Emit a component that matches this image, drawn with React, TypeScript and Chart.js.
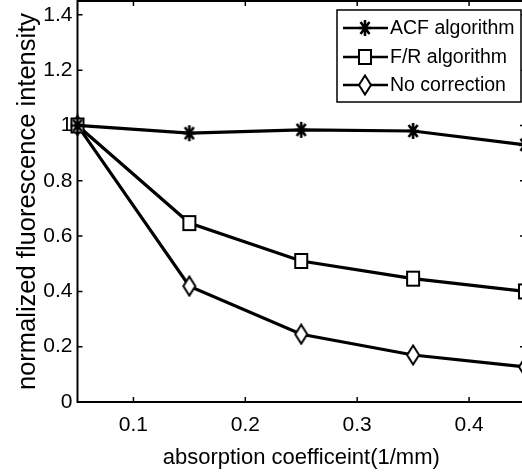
import React, { useEffect, useRef } from "react";
import { Chart, registerables } from "chart.js";

Chart.register(...registerables);

const xValues = [0.05, 0.15, 0.25, 0.35, 0.45];
const acfValues = [1.0, 0.972, 0.984, 0.98, 0.93];
const frValues = [1.0, 0.647, 0.51, 0.446, 0.4];
const noCorrValues = [1.0, 0.419, 0.245, 0.17, 0.127];
const xTicks = [0.1, 0.2, 0.3, 0.4];
const yTicks = [0, 0.2, 0.4, 0.6, 0.8, 1.0, 1.2, 1.4];
const seriesLabels = ["ACF algorithm", "F/R algorithm", "No correction"];
const xTitle = "absorption coefficeint(1/mm)";
const yTitle = "normalized fluorescence intensity";

const FONT = "'Liberation Sans', Arial, Helvetica, sans-serif";

function makeMarker(kind: string): HTMLCanvasElement {
  const c = document.createElement("canvas");
  const w = 18;
  const h = 22;
  c.width = w;
  c.height = h;
  const ctx = c.getContext("2d")!;
  const cx = w / 2;
  const cy = h / 2;
  ctx.strokeStyle = "#000";
  ctx.lineWidth = 2;
  if (kind === "star") {
    const rx = 6;
    const ry = 8;
    ctx.lineWidth = 2.6;
    ctx.beginPath();
    ctx.moveTo(cx, cy - ry);
    ctx.lineTo(cx, cy + ry);
    ctx.moveTo(cx - rx, cy);
    ctx.lineTo(cx + rx, cy);
    ctx.moveTo(cx - rx * 0.75, cy - ry * 0.75);
    ctx.lineTo(cx + rx * 0.75, cy + ry * 0.75);
    ctx.moveTo(cx + rx * 0.75, cy - ry * 0.75);
    ctx.lineTo(cx - rx * 0.75, cy + ry * 0.75);
    ctx.stroke();
  } else if (kind === "square") {
    ctx.fillStyle = "#fff";
    ctx.fillRect(cx - 6, cy - 7, 12, 14);
    ctx.strokeRect(cx - 6, cy - 7, 12, 14);
  } else {
    ctx.fillStyle = "#fff";
    ctx.beginPath();
    ctx.moveTo(cx, cy - 9.5);
    ctx.lineTo(cx + 6, cy);
    ctx.lineTo(cx, cy + 9.5);
    ctx.lineTo(cx - 6, cy);
    ctx.closePath();
    ctx.fill();
    ctx.stroke();
  }
  return c;
}

export default function App() {
  const ref = useRef<HTMLCanvasElement | null>(null);

  useEffect(() => {
    if (!ref.current) return;
    const markers = [makeMarker("star"), makeMarker("square"), makeMarker("diamond")];
    const values = [acfValues, frValues, noCorrValues];

    const frame = {
      id: "matlabFrame",
      beforeDatasetsDraw(chart: any) {
        const { ctx, chartArea: a, scales } = chart;
        ctx.save();
        ctx.strokeStyle = "#000";
        ctx.lineWidth = 2;
        ctx.strokeRect(a.left, a.top, a.right - a.left, a.bottom - a.top);
        ctx.lineWidth = 1.5;
        const tl = 5;
        ctx.beginPath();
        for (const v of xTicks) {
          const px = scales.x.getPixelForValue(v);
          ctx.moveTo(px, a.bottom);
          ctx.lineTo(px, a.bottom - tl);
          ctx.moveTo(px, a.top);
          ctx.lineTo(px, a.top + tl);
        }
        for (const v of yTicks) {
          const py = scales.y.getPixelForValue(v);
          ctx.moveTo(a.left, py);
          ctx.lineTo(a.left + tl, py);
          ctx.moveTo(a.right, py);
          ctx.lineTo(a.right - tl, py);
        }
        ctx.stroke();
        ctx.restore();
      },
      afterDraw(chart: any) {
        const { ctx, chartArea: a } = chart;
        const boxRight = a.right - 4;
        const boxLeft = boxRight - 184;
        const boxTop = a.top + 9;
        const boxBottom = boxTop + 92;
        ctx.save();
        ctx.fillStyle = "#fff";
        ctx.fillRect(boxLeft, boxTop, boxRight - boxLeft, boxBottom - boxTop);
        ctx.strokeStyle = "#000";
        ctx.lineWidth = 1.5;
        ctx.strokeRect(boxLeft, boxTop, boxRight - boxLeft, boxBottom - boxTop);
        const rows = [boxTop + 18, boxTop + 47, boxTop + 75];
        chart.data.datasets.forEach((ds: any, i: number) => {
          const y = rows[i];
          ctx.strokeStyle = "#000";
          ctx.lineWidth = 2.5;
          ctx.beginPath();
          ctx.moveTo(boxLeft + 6, y);
          ctx.lineTo(boxLeft + 51, y);
          ctx.stroke();
          const m = markers[i];
          ctx.drawImage(m, boxLeft + 28 - m.width / 2, y - m.height / 2);
          ctx.fillStyle = "#000";
          ctx.font = `19.5px ${FONT}`;
          ctx.textBaseline = "middle";
          ctx.textAlign = "left";
          ctx.fillText(ds.label, boxLeft + 53, y + 1);
        });
        ctx.restore();
      },
    };

    const chart = new Chart(ref.current, {
      type: "line",
      data: {
        datasets: seriesLabels.map((label, i) => ({
          label,
          data: xValues.map((x, j) => ({ x, y: values[i][j] })),
          borderColor: "#000",
          borderWidth: 3.2,
          pointStyle: markers[i] as any,
          pointRadius: 8,
          backgroundColor: "#fff",
          tension: 0,
          clip: 12,
        })),
      },
      options: {
        responsive: false,
        animation: false,
        events: [],
        layout: { autoPadding: false, padding: { left: 0, top: 1, right: 5, bottom: 0 } },
        plugins: { legend: { display: false }, tooltip: { enabled: false } },
        scales: {
          x: {
            type: "linear",
            min: 0.05,
            max: 0.45,
            grid: { display: false, drawTicks: false, tickLength: 0 },
            border: { display: false },
            afterBuildTicks: (s: any) => {
              s.ticks = xTicks.map((v) => ({ value: v }));
            },
            afterFit: (s: any) => {
              s.height = 73;
              s.paddingLeft = 0;
              s.paddingRight = 0;
            },
            ticks: {
              color: "#000",
              padding: 11,
              maxRotation: 0,
              font: { family: FONT, size: 21 },
              callback: (v: any) => String(Number(Number(v).toFixed(2))),
            },
            title: {
              display: true,
              text: xTitle,
              color: "#000",
              font: { family: FONT, size: 22 },
              padding: { top: 0, bottom: 4 },
            },
          },
          y: {
            type: "linear",
            min: 0,
            max: 1.45,
            grid: { display: false, drawTicks: false, tickLength: 0 },
            border: { display: false },
            afterBuildTicks: (s: any) => {
              s.ticks = yTicks.map((v) => ({ value: v }));
            },
            afterFit: (s: any) => {
              s.width = 77.5;
              s.paddingTop = 0;
              s.paddingBottom = 0;
            },
            ticks: {
              color: "#000",
              padding: 5,
              font: { family: FONT, size: 21 },
              callback: (v: any) => String(Number(Number(v).toFixed(2))),
            },
            title: {
              display: true,
              text: yTitle,
              color: "#000",
              font: { family: FONT, size: 25.5 },
              padding: { top: 13, bottom: 0 },
            },
          },
        },
      },
      plugins: [frame],
    });
    return () => chart.destroy();
  }, []);

  return (
    <div
      style={{
        position: "fixed",
        left: 0,
        top: 0,
        width: 522,
        height: 475,
        overflow: "hidden",
        background: "#fff",
      }}
    >
      <canvas ref={ref} width={530} height={475} style={{ width: 530, height: 475, display: "block" }} />
    </div>
  );
}
